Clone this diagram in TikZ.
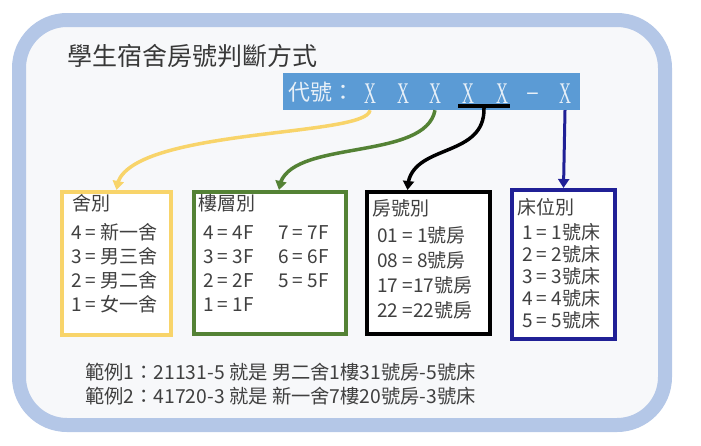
\documentclass[tikz,border=0pt]{standalone}
\usepackage{fontspec}
\setmainfont{Noto Sans CJK TC}
\newfontfamily\codefont[FakeStretch=0.55]{Liberation Serif}
\usepackage{tikz}
\usetikzlibrary{arrows.meta, bending}
\definecolor{frameBlue}{RGB}{180, 199, 231}
\definecolor{panelFill}{RGB}{247, 248, 250}
\definecolor{barBlue}{RGB}{91, 155, 213}
\definecolor{barText}{RGB}{232, 240, 248}
\definecolor{textGray}{RGB}{64, 64, 64}
\definecolor{dormYellow}{RGB}{248, 212, 106}
\definecolor{floorGreen}{RGB}{84, 130, 53}
\definecolor{bedBlue}{RGB}{32, 32, 150}
\tikzset{
    panel_frame/.style={
        line width=14pt,
        draw=frameBlue,
        fill=panelFill,
        rounded corners=48pt
    },
    code_bar/.style={
        fill=barBlue,
        minimum width=297,
        minimum height=37,
        inner sep=0pt
    },
    code_char/.style={
        anchor=base,
        inner sep=0pt,
        text=barText,
        font=\codefont\fontsize{30}{30}\selectfont
    },
    list_box/.style={
        line width=4pt,
        fill=white,
        anchor=north west,
        inner sep=0pt
    },
    list_text/.style={
        anchor=base west,
        inner sep=0pt,
        text=textGray,
        font=\fontsize{19}{19}\selectfont
    },
    code_arrow/.style={
        -{Triangle[length=9pt, width=11pt]},
        line width=3.5pt
    }
}

\begin{document}
\begin{tikzpicture}[x=1pt, y=-1pt]
    \useasboundingbox (0,0) rectangle (701,445);
    \draw[panel_frame] (19,20) rectangle (665,425);

    \node[list_text, text=black!78, font=\fontsize{25}{25}\selectfont] (title) at (67,65) {學生宿舍房號判斷方式};

    % 代號列
    \node[code_bar] (code_bar) at (431.5,91.5) {};
    \node[code_char, anchor=base west, font=\fontsize{22}{22}\selectfont] (code_label) at (288,100) {代號：};
    \foreach \px [count=\i] in {370,403,435,468,502,565}
        \node[code_char] (x\i) at (\px,103) {X};
    \node[code_char, font=\fontsize{24}{24}\selectfont] (code_dash) at (533,100) {–};
    \node[fill=black, minimum width=52, minimum height=4, inner sep=0pt] (pair_line) at (484,106) {};

    % 四個說明框
    \node[list_box, draw=dormYellow, minimum width=109, minimum height=143] (dorm_box) at (60,190) {};
    \node[list_box, draw=floorGreen, minimum width=152, minimum height=142] (floor_box) at (192,190) {};
    \node[list_box, draw=black, minimum width=123, minimum height=142] (room_box) at (365,190) {};
    \node[list_box, draw=bedBlue, minimum width=103, minimum height=149] (bed_box) at (510,188) {};

    \node[list_text] (dorm_head) at (72,210) {舍別};
    \foreach \row [count=\i] in {4 = 新一舍, 3 = 男三舍, 2 = 男二舍, 1 = 女一舍}
        \node[list_text] (dorm\i) at (71,214.7+24.3*\i) {\row};

    \node[list_text] (floor_head) at (198,210) {樓層別};
    \foreach \row [count=\i] in {4 = 4F, 3 = 3F, 2 = 2F, 1 = 1F}
        \node[list_text] (floor_l\i) at (203,214.7+24.3*\i) {\row};
    \foreach \row [count=\i] in {7 = 7F, 6 = 6F, 5 = 5F}
        \node[list_text] (floor_r\i) at (278,214.7+24.3*\i) {\row};

    \node[list_text] (room_head) at (372,215) {房號別};
    \foreach \row [count=\i] in {01 = 1號房, 08 = 8號房, 17 =17號房, 22 =22號房}
        \node[list_text] (room\i) at (377,217+25*\i) {\row};

    \node[list_text] (bed_head) at (517,214) {床位別};
    \foreach \row [count=\i] in {1 = 1號床, 2 = 2號床, 3 = 3號床, 4 = 4號床, 5 = 5號床}
        \node[list_text] (bed\i) at (522,217+22*\i) {\row};

    \node[list_text, font=\fontsize{19.3}{19.3}\selectfont] (example_one) at (85,379) {範例1：21131-5 就是 男二舍1樓31號房-5號床};
    \node[list_text, font=\fontsize{19.3}{19.3}\selectfont] (example_two) at (85,403) {範例2：41720-3 就是 新一舍7樓20號房-3號床};

    \draw[code_arrow, draw=dormYellow] (x1 |- code_bar.south)
        .. controls +(-3,28) and +(0,-63) .. (dorm_box.north);
    \draw[code_arrow, draw=floorGreen] (x3 |- code_bar.south)
        .. controls +(-10,53) and +(3,-53) .. ([xshift=9pt]floor_box.north);
    \draw[code_arrow] (pair_line.south)
        .. controls +(1,52) and +(0,-48) .. ([xshift=-21pt]room_box.north);
    \draw[code_arrow, draw=bedBlue, line width=3pt] (x6 |- code_bar.south) -- (bed_box.north);
\end{tikzpicture}
\end{document}
